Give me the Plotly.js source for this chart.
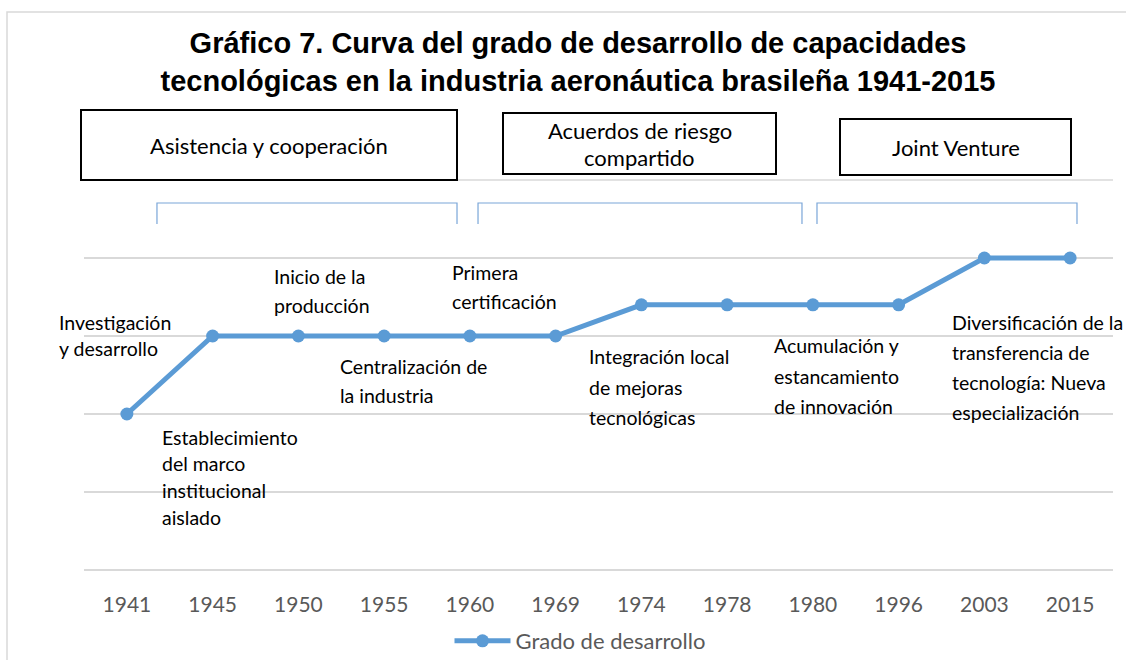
<!DOCTYPE html>
<html>
<head>
<meta charset="utf-8">
<script src="https://cdn.plot.ly/plotly-3.0.1.min.js"></script>
<style>
html,body{margin:0;padding:0;background:#fff;}
#chart{width:1126px;height:660px;}
</style>
</head>
<body>
<div id="chart"></div>
<script>
// ---- data ----
const years = ['1941','1945','1950','1955','1960','1969','1974','1978','1980','1996','2003','2015'];
const grado = [2, 3, 3, 3, 3, 3, 3.4, 3.4, 3.4, 3.4, 4, 4];
const seriesName = 'Grado de desarrollo';
const chartTitle = 'Gráfico 7. Curva del grado de desarrollo de capacidades<br>tecnológicas en la industria aeronáutica brasileña 1941-2015';

const phaseLabels = [
  ['Asistencia y cooperación'],
  ['Acuerdos de riesgo', 'compartido'],
  ['Joint Venture']
];
const stageLabels = [
  ['Investigación', 'y desarrollo'],
  ['Establecimiento', 'del marco', 'institucional', 'aislado'],
  ['Inicio de la', 'producción'],
  ['Centralización de', 'la industria'],
  ['Primera', 'certificación'],
  ['Integración local', 'de mejoras', 'tecnológicas'],
  ['Acumulación y', 'estancamiento', 'de innovación'],
  ['Diversificación de la', 'transferencia de', 'tecnología: Nueva', 'especialización']
];

// ---- layout helpers (positions/styles) ----
const W = 1126, H = 660;
const M = {l: 84, r: 13, t: 180, b: 90, autoexpand: false};
const PW = W - M.l - M.r, PH = H - M.t - M.b;
const NCAT = years.length, YMAX = 5;
const px2x = p => (p - M.l) / PW;          // paper x from pixel
const py2y = p => (H - M.b - p) / PH;      // paper y from pixel
const cx2p = i => (i + 0.5) / NCAT;        // paper x from category index units
const FONT = 'Lato, "Open Sans", sans-serif';

// stage label positions: [left x (category index units), first line y (value units), line step]
const stagePos = [
  [-0.815, 3.167, 0.321],
  [0.386, 1.705, 0.342],
  [1.692, 3.769, 0.372],
  [2.462, 2.603, 0.372],
  [3.768, 3.808, 0.372],
  [5.366, 2.731, 0.385],
  [7.523, 2.872, 0.385],
  [9.599, 3.179, 0.385]
];
// phase boxes in pixels: [x0, y0, x1, y1]
const boxPx = [[81, 110, 457, 180], [503, 113, 776, 174], [840, 119, 1071, 175]];
// brackets in category-index units: [x0, x1]; y in value units
const bracketX = [[0.351, 3.850], [4.095, 7.873], [8.048, 11.080]];
const bracketTop = 4.705, bracketBot = 4.436;

const annotations = [];
stageLabels.forEach((lines, i) => {
  const [x, y0, dy] = stagePos[i];
  lines.forEach((t, j) => {
    annotations.push({
      xref: 'paper', yref: 'paper', x: cx2p(x), y: (y0 - j * dy) / YMAX,
      xanchor: 'left', yanchor: 'middle', showarrow: false,
      text: t, font: {family: FONT, size: 19.5, color: '#000'}
    });
  });
});

const shapes = [];
// outer chart border (cut off at right/bottom)
shapes.push({type: 'rect', xref: 'paper', yref: 'paper',
  x0: px2x(7), x1: px2x(1140), y0: py2y(675), y1: py2y(12),
  line: {color: '#d9d9d9', width: 1.5}, fillcolor: 'rgba(0,0,0,0)', layer: 'below'});
// top gridline (edge of plot area)
shapes.push({type: 'line', xref: 'paper', yref: 'paper', x0: 0, x1: 1, y0: 1, y1: 1,
  line: {color: '#d9d9d9', width: 1.5}, layer: 'below'});

phaseLabels.forEach((lines, i) => {
  const [x0, y0, x1, y1] = boxPx[i];
  shapes.push({type: 'rect', xref: 'paper', yref: 'paper',
    x0: px2x(x0), x1: px2x(x1), y0: py2y(y1), y1: py2y(y0),
    line: {color: '#000', width: 2}, fillcolor: '#fff', layer: 'above'});
  const cx = (x0 + x1) / 2, cy = (y0 + y1) / 2;
  const step = 27;
  lines.forEach((t, j) => {
    const py = cy + (j - (lines.length - 1) / 2) * step;
    annotations.push({xref: 'paper', yref: 'paper', x: px2x(cx), y: py2y(py),
      xanchor: 'center', yanchor: 'middle', showarrow: false,
      text: t, font: {family: FONT, size: 22, color: '#000'}});
  });
});

bracketX.forEach(([a, b]) => {
  shapes.push({type: 'path', xref: 'x', yref: 'y',
    path: `M ${a} ${bracketBot} L ${a} ${bracketTop} L ${b} ${bracketTop} L ${b} ${bracketBot}`,
    line: {color: '#7aa6d8', width: 1.2}, layer: 'above'});
});

const trace = {
  type: 'scatter', mode: 'lines+markers',
  x: years, y: grado, name: seriesName,
  line: {color: '#5b9bd5', width: 5},
  marker: {color: '#5b9bd5', size: 13, symbol: 'circle'},
  showlegend: true, hoverinfo: 'x+y'
};

const layout = {
  width: W, height: H,
  margin: M,
  paper_bgcolor: '#fff', plot_bgcolor: '#fff',
  title: {
    text: chartTitle, xref: 'paper', x: px2x(578), xanchor: 'center',
    yref: 'container', y: 1 - 53 / H, yanchor: 'middle',
    font: {family: '"Liberation Sans", Arial, sans-serif', size: 29, color: '#000', weight: 'bold'}
  },
  xaxis: {
    type: 'category', range: [-0.5, NCAT - 0.5], showgrid: false, zeroline: false,
    showline: false, ticks: '', ticklabelstandoff: 20,
    tickfont: {family: FONT, size: 21, color: '#595959'}, fixedrange: true
  },
  yaxis: {
    range: [0, YMAX], dtick: 1, showgrid: true, gridcolor: '#d9d9d9', gridwidth: 1.5,
    zeroline: true, zerolinecolor: '#d9d9d9', zerolinewidth: 1.5,
    showticklabels: false, ticks: '', showline: false, fixedrange: true
  },
  showlegend: true,
  legend: {
    orientation: 'h', x: px2x(580), xanchor: 'center', y: py2y(641), yanchor: 'middle',
    font: {family: FONT, size: 22, color: '#595959'}, bgcolor: 'rgba(0,0,0,0)',
    itemwidth: 56
  },
  shapes: shapes,
  annotations: annotations
};

Plotly.newPlot('chart', [trace], layout, {displayModeBar: false, staticPlot: true});
</script>
</body>
</html>
